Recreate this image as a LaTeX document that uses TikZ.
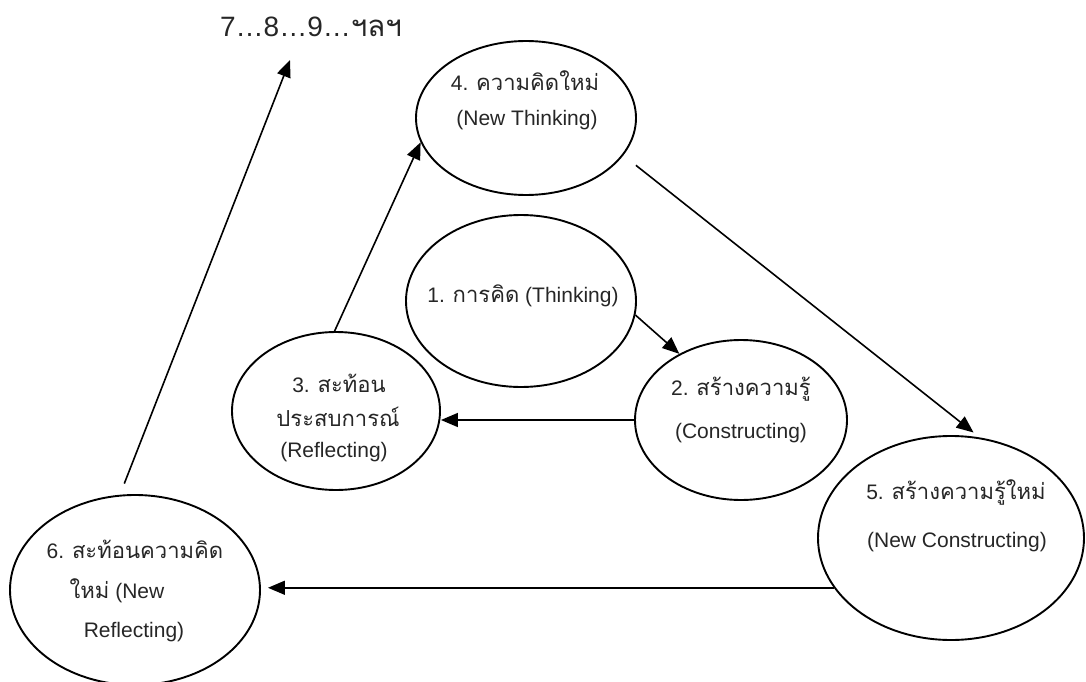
\documentclass[tikz,border=0pt]{standalone}
\usepackage{fontspec}
\setmainfont{Liberation Sans}
\newfontfamily\thai[Script=Thai,Scale=1.05]{Loma}
\usetikzlibrary{arrows.meta,shapes.geometric}
\begin{document}
\begin{tikzpicture}[x=1pt,y=-1pt,
  bubble/.style={draw,ellipse,line width=1.9pt,inner sep=0pt},
  lbl/.style={anchor=base,inner sep=0pt,text=black!85,font=\fontsize{21}{25}\selectfont},
  link/.style={line width=1.6pt,-{Triangle[length=17pt,width=14pt]}}]
\useasboundingbox (0,0) rectangle (1086,682);
% ellipses
\node[bubble,minimum width=220,minimum height=154] (e4) at (526,118) {};
\node[bubble,minimum width=230,minimum height=172] (e1) at (521,301) {};
\node[bubble,minimum width=212,minimum height=160] (e2) at (741,420) {};
\node[bubble,minimum width=208,minimum height=158] (e3) at (336,411) {};
\node[bubble,minimum width=266,minimum height=204] (e5) at (951,538) {};
\node[bubble,minimum width=250,minimum height=190] (e6) at (135,590) {};
% texts
\node[lbl] (t4a) at (525,91) {4. {\thai ความคิดใหม่}};
\node[lbl] (t4b) at (527,125) {(New Thinking)};
\node[lbl] (t1) at (523,302) {1. {\thai การคิด} (Thinking)};
\node[lbl] (t3a) at (339,392) {3. {\thai สะท้อน}};
\node[lbl] (t3b) at (338,426) {\thai ประสบการณ์};
\node[lbl] (t3c) at (334,457) {(Reflecting)};
\node[lbl] (t2a) at (741,395) {2. {\thai สร้างความรู้}};
\node[lbl] (t2b) at (741,438) {(Constructing)};
\node[lbl] (t5a) at (956,499) {5. {\thai สร้างความรู้ใหม่}};
\node[lbl] (t5b) at (957,547) {(New Constructing)};
\node[lbl] (t6a) at (135,558) {6. {\thai สะท้อนความคิด}};
\node[lbl] (t6b) at (117,598) {{\thai ใหม่} (New};
\node[lbl] (t6c) at (134,637) {Reflecting)};
\node[anchor=base,inner sep=0pt,text=black!85,font=\fontsize{28}{32}\selectfont] (t7) at (311,37) {7…8…9…{\thai ฯลฯ}};
% connectors
\draw[link] (e1.-7) -- (e2.133);
\draw[link] (e2.west) -- (e2.west -| e3.east);
\draw[link] (e3.91) -- (e4.193);
\draw[link,shorten <=16pt,shorten >=8pt] (e4.-21.6) -- (e5.74.5);
\draw[link,shorten >=7pt] (e5.203.8) -- (e5.203.8 -| e6.east);
\draw[link,shorten <=12pt] (e6.99.5) -- ([shift={(-21,23)}]t7.base);
\end{tikzpicture}
\end{document}
